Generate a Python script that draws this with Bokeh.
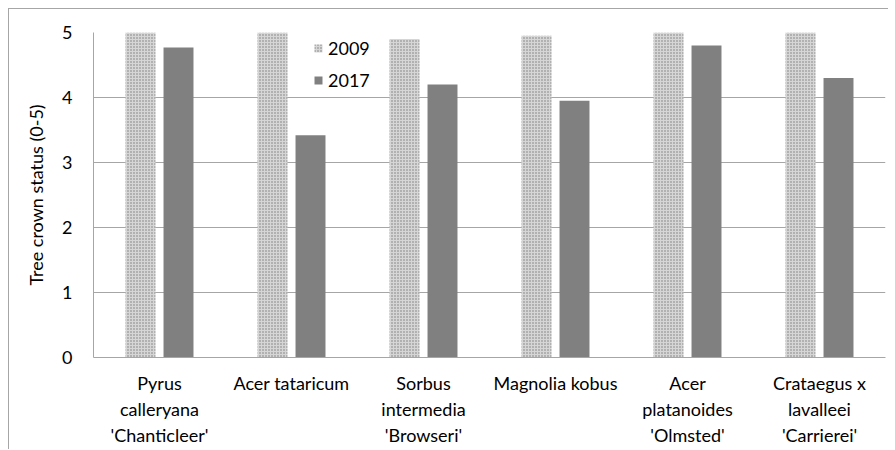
from bokeh.plotting import figure
from bokeh.models import ColumnDataSource, FactorRange, FixedTicker, Legend, LegendItem
from bokeh.transform import dodge
from bokeh.embed import file_html
from bokeh.resources import INLINE

categories = ["Pyrus\ncalleryana\n'Chanticleer'", "Acer tataricum", "Sorbus\nintermedia\n'Browseri'",
              "Magnolia kobus", "Acer\nplatanoides\n'Olmsted'", "Crataegus x\nlavalleei\n'Carrierei'"]
values_2009 = [5.0, 5.0, 4.9, 4.95, 5.0, 5.0]
values_2017 = [4.77, 3.42, 4.2, 3.95, 4.8, 4.3]
y_ticks = [0, 1, 2, 3, 4, 5]

FONT = "Lato"
src = ColumnDataSource(dict(cat=categories, v2009=values_2009, v2017=values_2017))

p = figure(x_range=FactorRange(*categories, range_padding=0), y_range=(0, 5),
           frame_width=792, frame_height=325, output_backend="svg", toolbar_location=None,
           min_border_left=84, min_border_right=3, min_border_top=23, min_border_bottom=80)
p.styles = {"margin-left": "8px", "margin-top": "8px",
            "border-top": "1px solid #a6a6a6", "border-left": "1px solid #a6a6a6"}
p.outline_line_color = None

r1 = p.vbar(x=dodge("cat", -0.144, range=p.x_range), top="v2009", width=0.227, source=src,
            fill_color="#d6d6d6", line_color=None, hatch_pattern="dot", hatch_color="#7a7a7a",
            hatch_scale=3, hatch_weight=1.2)
r2 = p.vbar(x=dodge("cat", 0.144, range=p.x_range), top="v2017", width=0.227, source=src,
            fill_color="#808080", line_color=None)

p.xgrid.grid_line_color = None
p.ygrid.grid_line_color = "#a6a6a6"
p.ygrid.ticker = FixedTicker(ticks=y_ticks)
p.yaxis.ticker = FixedTicker(ticks=y_ticks)

p.xaxis.axis_line_color = "#a6a6a6"
p.xaxis.major_tick_line_color = None
p.xaxis.minor_tick_line_color = None
p.xaxis.major_label_text_font = FONT
p.xaxis.major_label_text_font_size = "18px"
p.xaxis.major_label_text_color = "#000000"
p.xaxis.major_label_standoff = 8
p.xaxis.major_label_text_line_height = 1.2

p.yaxis.axis_line_color = "#a6a6a6"
p.yaxis.major_tick_line_color = None
p.yaxis.minor_tick_line_color = None
p.yaxis.major_label_text_font = FONT
p.yaxis.major_label_text_font_size = "18px"
p.yaxis.major_label_text_color = "#000000"
p.yaxis.major_label_standoff = 15
p.yaxis.axis_label = "Tree crown status (0-5)"
p.yaxis.axis_label_text_font = FONT
p.yaxis.axis_label_text_font_size = "18px"
p.yaxis.axis_label_text_font_style = "normal"
p.yaxis.axis_label_text_color = "#000000"
p.yaxis.axis_label_standoff = 12

legend = Legend(items=[LegendItem(label="2009", renderers=[r1]), LegendItem(label="2017", renderers=[r2])],
                location=(220, 266), orientation="vertical",
                glyph_width=10, glyph_height=10, label_height=20, spacing=10,
                label_standoff=5, padding=0, margin=0,
                label_text_font=FONT, label_text_font_size="18px", label_text_color="#000000",
                border_line_color=None, background_fill_alpha=0)
p.add_layout(legend, "center")

open("out.html", "w").write(file_html(p, INLINE))
